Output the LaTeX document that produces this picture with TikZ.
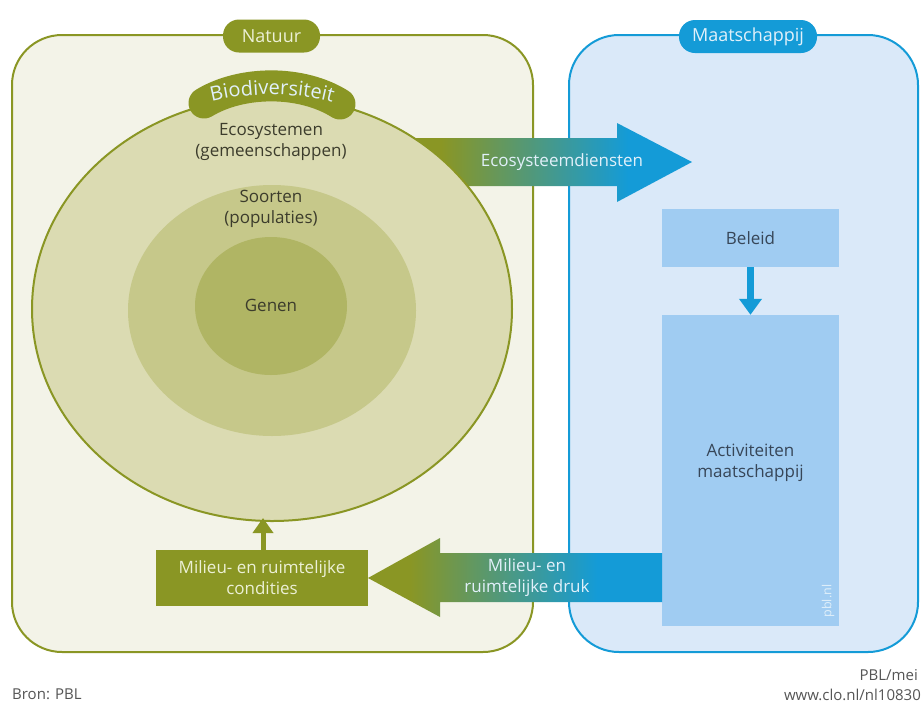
\documentclass[tikz,border=0pt]{standalone}
\usepackage{fontspec}
\setmainfont{Open Sans}
\usetikzlibrary{arrows.meta,shapes.geometric,decorations.text}
\definecolor{olv}{RGB}{138,150,36}
\definecolor{natfill}{RGB}{243,243,232}
\definecolor{ecofill}{RGB}{219,219,178}
\definecolor{soorfill}{RGB}{198,200,138}
\definecolor{genfill}{RGB}{176,181,100}
\definecolor{blu}{RGB}{20,155,215}
\definecolor{mfill}{RGB}{218,233,249}
\definecolor{boxblue}{RGB}{160,204,242}
\definecolor{darktxt}{RGB}{60,60,44}
\definecolor{bluetxt}{RGB}{55,70,88}
\definecolor{lighttxt}{RGB}{236,240,214}
\definecolor{bluelight}{RGB}{225,240,250}
\definecolor{greytxt}{RGB}{85,85,85}
\pgfdeclarehorizontalshading{ecoshade}{100bp}{rgb(0bp)=(0.541,0.588,0.141); rgb(32bp)=(0.541,0.588,0.141); rgb(64bp)=(0.078,0.608,0.843); rgb(100bp)=(0.078,0.608,0.843)}
\tikzset{
  txt/.style={font=\fontsize{17}{21}\selectfont, align=center, inner sep=0pt},
  darkt/.style={txt, text=darktxt},
  bluet/.style={txt, text=bluetxt},
  lightt/.style={txt, text=lighttxt},
  pill/.style={rounded corners=16pt, minimum height=33pt, inner sep=0pt, text=bluelight, font=\fontsize{18}{20}\selectfont},
  bbox/.style={fill=boxblue, inner sep=0pt},
  ell/.style={ellipse, inner sep=0pt},
  frame/.style={line width=2pt, rounded corners=50pt},
  greyt/.style={font=\fontsize{15}{17}\selectfont, text=greytxt, inner sep=0pt},
}
\begin{document}
\begin{tikzpicture}[x=1pt,y=-1pt]
\useasboundingbox[fill=white] (0,0) rectangle (921,702);
% frames
\draw[frame, draw=olv, fill=natfill] (12,35) rectangle (533,652);
\draw[frame, draw=blu, fill=mfill] (569,35) rectangle (918,652);
% ecosystem services arrow
\shade[shading=ecoshade] (400,138) -- (617,138) -- (617,123) -- (692,162) -- (617,202) -- (617,186) -- (400,186) -- cycle;
\node[lightt, text=bluelight] (esd) at (562,162) {Ecosysteemdiensten};
% ellipses
\node[ell, fill=ecofill, draw=olv, line width=2pt, minimum width=480pt, minimum height=424pt] (eco) at (272,309) {};
\node[ell, fill=soorfill, minimum width=288pt, minimum height=251pt] (soor) at (272,310.5) {};
\node[ell, fill=genfill, minimum width=152pt, minimum height=138pt] (gen) at (271,306) {};
\node[darkt] (ecot) at (271,141.5) {Ecosystemen\\(gemeenschappen)};
\node[darkt] (soort) at (271,208.5) {Soorten\\(populaties)};
\node[darkt] (gent) at (271,305) {Genen};
% Biodiversiteit label
\draw[olv, line width=31pt, line cap=round] (204,103) .. controls (242,80) and (302,80) .. (340,104);
\path[decorate, decoration={text along path, text align=center, text color=bluelight,
  text={|\fontsize{20}{22}\selectfont|Biodiversiteit}}]
  (192,108) .. controls (238,90) and (306,90) .. (352,109);
% pills
\node[pill, fill=olv, minimum width=97pt, text=lighttxt] (nat) at (271.5,36) {Natuur};
\node[pill, fill=blu, minimum width=138pt] (maat) at (748,36.5) {Maatschappij};
% society boxes
\node[bbox, minimum width=177pt, minimum height=58pt] (beleid) at (750.5,238) {};
\node[bluet] (beleidt) at (750.5,238) {Beleid};
\node[bbox, minimum width=177pt, minimum height=311pt] (act) at (750.5,470.5) {};
\node[bluet] (actt) at (750.5,463) {Activiteiten\\maatschappij};
\node[font=\fontsize{12.5}{14}\selectfont, text=bluelight, rotate=90, inner sep=0pt] (pbl) at (828,601) {pbl.nl};
\draw[blu, line width=7pt, -{Triangle[width=22pt,length=16pt]}] (beleid.south) -- (act.north);
% pressure arrow
\shade[shading=ecoshade] (662,553) -- (440,553) -- (440,538) -- (368,578) -- (440,617) -- (440,602) -- (662,602) -- cycle;
\node[lightt, text=bluelight] (drukt) at (527,578) {Milieu- en\\ruimtelijke druk};
% conditions
\node[fill=olv, minimum width=212pt, minimum height=56pt, inner sep=0pt] (cond) at (262,578) {};
\node[lightt] (condt) at (262,578) {Milieu- en ruimtelijke\\condities};
\coordinate (ecobot) at (263,518);
\draw[olv, line width=5pt, -{Triangle[width=20pt,length=15pt]}] (cond.north -| ecobot) -- (ecobot);
% footer
\node[greyt, anchor=base west] (bron) at (12,699) {Bron: PBL};
\node[greyt, anchor=base east] (pblmei) at (918,680) {PBL/mei};
\node[greyt, anchor=base east] (clo) at (921,700) {www.clo.nl/nl10830};
\end{tikzpicture}
\end{document}
